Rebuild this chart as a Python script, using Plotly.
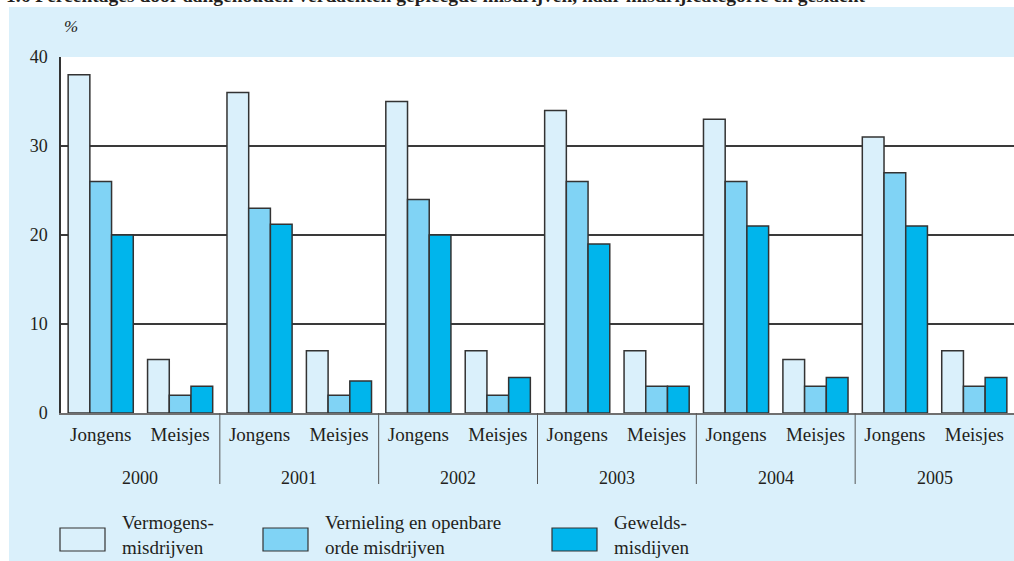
import plotly.graph_objects as go

# ----------------------------------------------------------
# Data
# ----------------------------------------------------------
years = ["2000", "2001", "2002", "2003", "2004", "2005"]
genders = ["Jongens", "Meisjes"]
series_names = ["Vermogens-<br>misdrijven",
                "Vernieling en openbare<br>orde misdrijven",
                "Gewelds-<br>misdijven"]

# per year: Jongens, Meisjes
vermogens = [38, 6, 36, 7, 35, 7, 34, 7, 33, 6, 31, 7]
vernieling = [26, 2, 23, 2, 24, 2, 26, 3, 26, 3, 27, 3]
gewelds = [20, 3, 21.2, 3.6, 20, 4, 19, 3, 21, 4, 21, 4]

title_text = ("1.6 Percentages door aangehouden verdachten gepleegde misdrijven, "
              "naar misdrijfcategorie en geslacht")

# ----------------------------------------------------------
# Style
# ----------------------------------------------------------
W, H = 1014, 561
L, R, T, B = 61, 0, 57, 148
PANEL = "#daf0fb"
COLORS = ["#daf0fb", "#80d3f5", "#00b5ec"]
TEXT = "#231f20"
FONT = "Liberation Serif"

PW = W - L - R
PH = H - T - B


def px_x(x):
    return (x - L) / PW


def px_y(y):
    return (H - B - y) / PH


n_g = len(genders)
x_pos = list(range(len(years) * n_g))
x_text = [g for _ in years for g in genders]

fig = go.Figure()
for name, vals, col in zip(series_names, [vermogens, vernieling, gewelds], COLORS):
    fig.add_trace(go.Bar(
        x=x_pos, y=vals, name=name.replace("<br>", " "),
        marker=dict(color=col, line=dict(color="#333333", width=1.5)),
        showlegend=False,
    ))

fig.update_layout(
    width=W, height=H,
    margin=dict(l=L, r=R, t=T, b=B),
    paper_bgcolor=PANEL,
    plot_bgcolor="white",
    barmode="group",
    bargap=0.18,
    bargroupgap=0,
    font=dict(family=FONT, size=18, color=TEXT),
)

fig.update_xaxes(
    range=[-0.5, len(x_pos) - 0.5],
    tickvals=x_pos, ticktext=x_text,
    showline=True, linecolor="#707070", linewidth=2,
    showgrid=False, zeroline=False, ticks="", ticklabelstandoff=3,
    tickfont=dict(family=FONT, size=19, color=TEXT),
)
fig.update_yaxes(
    range=[0, 40], tickvals=[0, 10, 20, 30, 40],
    showline=True, linecolor="#333333", linewidth=1.5,
    showgrid=True, gridcolor="#3a3a3a", gridwidth=1.5,
    zeroline=False, ticks="", ticklabelstandoff=8,
    tickfont=dict(family=FONT, size=18, color=TEXT),
)

# year labels and dividers between years
for i, yr in enumerate(years):
    fig.add_annotation(text=yr, xref="x", yref="paper",
                       x=i * n_g + (n_g - 1) / 2, y=px_y(478),
                       xanchor="center", yanchor="middle", showarrow=False,
                       font=dict(family=FONT, size=18, color=TEXT))
    if i > 0:
        fig.add_shape(type="line", xref="x", yref="paper",
                      x0=i * n_g - 0.5, x1=i * n_g - 0.5, y0=0, y1=px_y(484),
                      line=dict(color="#555555", width=1))

# white page strips around the light blue panel
fig.add_shape(type="rect", xref="paper", yref="paper",
              x0=px_x(-5), x1=px_x(W + 5), y0=px_y(7), y1=px_y(-10),
              fillcolor="white", line=dict(width=0), layer="above")
fig.add_shape(type="rect", xref="paper", yref="paper",
              x0=px_x(-5), x1=px_x(9), y0=px_y(H + 5), y1=px_y(-10),
              fillcolor="white", line=dict(width=0), layer="above")

# cut-off title
fig.add_annotation(text="<b>" + title_text + "</b>", xref="paper", yref="paper",
                   x=px_x(4), y=px_y(8), xanchor="left", yanchor="bottom",
                   showarrow=False, font=dict(family=FONT, size=19.5, color=TEXT))

# unit label
fig.add_annotation(text="<i>%</i>", xref="paper", yref="paper",
                   x=px_x(62), y=px_y(27), xanchor="left", yanchor="middle",
                   showarrow=False, font=dict(family=FONT, size=17, color=TEXT))

# legend
legend_x = [60, 263, 552]
for lx, name, col in zip(legend_x, series_names, COLORS):
    fig.add_shape(type="rect", xref="paper", yref="paper",
                  x0=px_x(lx), x1=px_x(lx + 45), y0=px_y(551), y1=px_y(528),
                  fillcolor=col, line=dict(color="#333333", width=1.2), layer="above")
    fig.add_annotation(text=name, xref="paper", yref="paper",
                       x=px_x(lx + 60), y=px_y(535), xanchor="left", yanchor="middle",
                       align="left", showarrow=False,
                       font=dict(family=FONT, size=19, color=TEXT))

fig.write_html("out.html",
               config={"displayModeBar": False},
               post_script="document.body.style.margin='0';"
                           "document.body.style.overflow='hidden';")
